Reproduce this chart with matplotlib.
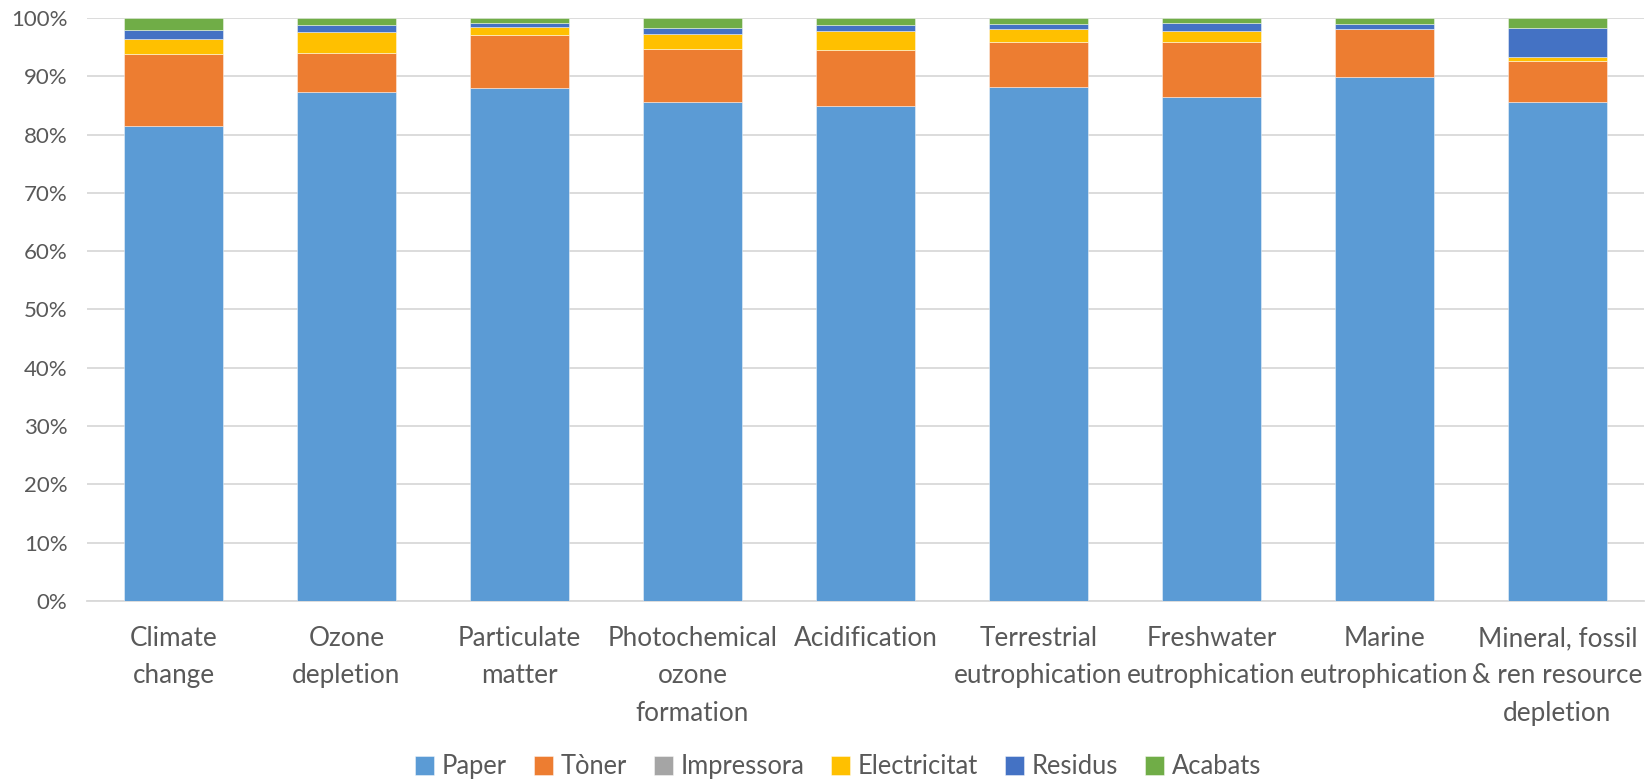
import matplotlib
matplotlib.use("Agg")
import matplotlib.pyplot as plt
import numpy as np

plt.rcParams['font.family'] = ['Lato', 'DejaVu Sans']

categories = [
    "Climate\nchange", "Ozone\ndepletion", "Particulate\nmatter",
    "Photochemical\nozone\nformation", "Acidification",
    "Terrestrial\neutrophication", "Freshwater\neutrophication",
    "Marine\neutrophication", "Mineral, fossil\n& ren resource\ndepletion",
]

# Share of each life-cycle stage per impact category (%)
paper        = [81.4, 87.4, 87.9, 85.6, 85.0, 88.2, 86.5, 89.95, 85.5]
toner        = [12.45, 6.7, 9.2, 9.15, 9.5, 7.65, 9.43, 8.1, 7.13]
impressora   = [0.0, 0.0, 0.0, 0.0, 0.0, 0.0, 0.0, 0.0, 0.0]
electricitat = [2.5, 3.6, 1.3, 2.57, 3.3, 2.3, 1.77, 0.05, 0.75]
residus      = [1.66, 1.2, 0.8, 1.03, 1.1, 0.86, 1.5, 0.9, 4.97]
acabats      = [2.0, 1.14, 0.8, 1.65, 1.14, 0.97, 0.8, 1.03, 1.65]

series = [
    ("Paper", paper, "#5B9BD5"),
    ("Tòner", toner, "#ED7D31"),
    ("Impressora", impressora, "#A5A5A5"),
    ("Electricitat", electricitat, "#FFC000"),
    ("Residus", residus, "#4472C4"),
    ("Acabats", acabats, "#70AD47"),
]

fig = plt.figure(figsize=(16.5, 7.79), dpi=100)
ax = fig.add_axes([0.0527, 0.2285, 0.9437, 0.7485])

x = np.arange(len(categories))
total = np.array([sum(s[1][i] for s in series) for i in range(len(categories))])
bottom = np.zeros(len(categories))
for name, vals, color in series:
    frac = np.array(vals, dtype=float) / total * 100
    ax.bar(x, frac, width=0.57, bottom=bottom, color=color, label=name,
           edgecolor=(1, 1, 1, 0.5), linewidth=0.6, zorder=3)
    bottom += frac

ax.set_xlim(-0.5, len(categories) - 0.5)
ax.set_ylim(0, 100)
ax.set_yticks(np.arange(0, 101, 10))
ax.set_yticklabels([f"{t}%" for t in range(0, 101, 10)])
ax.yaxis.grid(True, color="#D9D9D9", linewidth=1.3, zorder=0)
ax.set_axisbelow(True)
for s in ["top", "right", "left"]:
    ax.spines[s].set_visible(False)
ax.spines["bottom"].set_color("#D9D9D9")
ax.spines["bottom"].set_linewidth(1.3)

ax.set_xticks(x)
ax.set_xticklabels(categories, fontsize=18.8, color="#595959", linespacing=1.62,
                   va="top")
ax.tick_params(axis="x", length=0, pad=18)
ax.tick_params(axis="y", length=0, pad=14, labelsize=16, labelcolor="#595959")

handles, labels = ax.get_legend_handles_labels()
leg = fig.legend(handles, labels, loc="center", bbox_to_anchor=(0.508, 0.0155),
                 ncol=6, frameon=False, fontsize=18.4, handlelength=0.75,
                 handleheight=0.75, handletextpad=0.3, columnspacing=1.05)
for t in leg.get_texts():
    t.set_color("#595959")

fig.savefig("out.png", dpi=100)
